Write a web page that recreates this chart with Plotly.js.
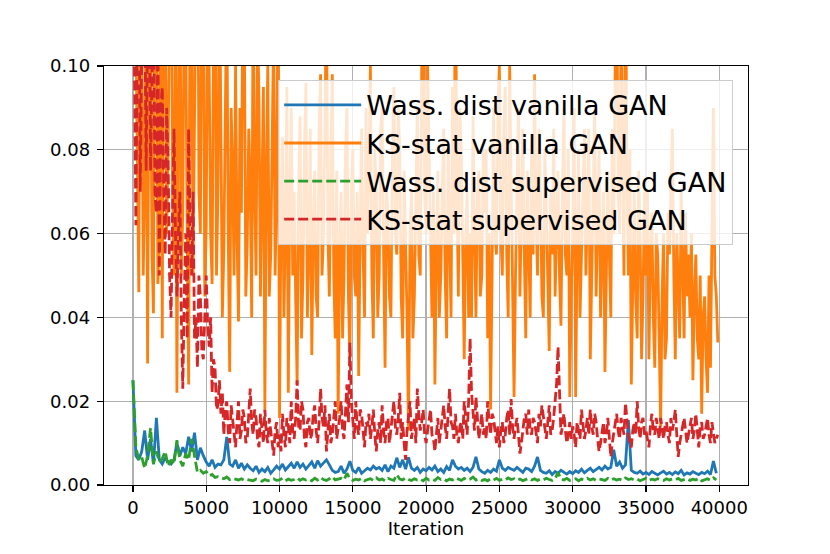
<!DOCTYPE html>
<html><head><meta charset="utf-8">
<script src="https://cdn.plot.ly/plotly-3.0.1.min.js"></script>
<style>html,body{margin:0;padding:0;background:#fff;}#chart{width:830px;height:554px;}</style>
</head><body><div id="chart"></div>
<script>
// iteration grids: KS-stat series every 100 iterations, Wasserstein every 200
const iterations100 = [];
for (let i = 0; i < 400; i++) iterations100.push(i * 100);
const iterations200 = [];
for (let i = 0; i < 200; i++) iterations200.push(i * 200);

const ksVanilla = [
0.13,0.16,0.11,0.07,0.046,0.14,0.12,0.05,0.07,0.12,
0.029,0.12,0.11,0.055,0.041,0.15,0.13,0.048,0.06,0.13,
0.035,0.14,0.12,0.06,0.08,0.13,0.15,0.07,0.05,0.11,
0.022,0.09,0.14,0.05,0.065,0.12,0.11,0.06,0.024,0.13,
0.12,0.05,0.09,0.14,0.16,0.07,0.06,0.12,0.13,0.045,
0.062,0.12,0.1,0.06,0.048,0.11,0.13,0.05,0.07,0.13,
0.09,0.04,0.056,0.1,0.12,0.06,0.027,0.09,0.075,0.05,
0.1,0.06,0.039,0.09,0.065,0.12,0.11,0.045,0.058,0.085,
0.072,0.04,0.12,0.07,0.05,0.11,0.092,0.045,0.068,0.095,
0.018,0.075,0.1,0.045,0.055,0.09,0.11,0.05,0.07,0.12,
0.016,0.065,0.083,0.04,0.06,0.095,0.022,0.07,0.09,0.05,
0.07,0.045,0.024,0.07,0.088,0.035,0.05,0.08,0.096,0.04,
0.055,0.085,0.031,0.06,0.075,0.045,0.04,0.085,0.098,0.05,
0.06,0.085,0.12,0.06,0.045,0.08,0.098,0.05,0.035,0.075,
0.017,0.055,0.07,0.035,0.05,0.08,0.09,0.045,0.03,0.07,
0.08,0.05,0.045,0.07,0.026,0.06,0.085,0.055,0.04,0.09,
0.06,0.075,0.1,0.05,0.035,0.08,0.07,0.04,0.05,0.085,
0.09,0.055,0.028,0.07,0.065,0.045,0.04,0.08,0.095,0.06,
0.055,0.09,0.08,0.045,0.035,0.075,0.06,0.04,0.013,0.06,
0.07,0.035,0.045,0.075,0.09,0.055,0.05,0.1,0.13,0.07,
0.06,0.1,0.08,0.05,0.04,0.07,0.024,0.055,0.075,0.04,
0.05,0.07,0.085,0.05,0.035,0.08,0.062,0.04,0.095,0.06,
0.13,0.07,0.045,0.09,0.08,0.05,0.03,0.06,0.07,0.04,
0.06,0.04,0.088,0.06,0.04,0.07,0.075,0.045,0.05,0.08,
0.065,0.08,0.035,0.06,0.018,0.05,0.09,0.06,0.055,0.09,
0.1,0.06,0.05,0.085,0.095,0.055,0.04,0.1,0.075,0.045,
0.021,0.05,0.07,0.09,0.045,0.065,0.085,0.055,0.035,0.075,
0.06,0.04,0.082,0.055,0.098,0.065,0.05,0.085,0.07,0.045,
0.04,0.08,0.066,0.045,0.032,0.07,0.055,0.085,0.045,0.06,
0.075,0.05,0.038,0.07,0.09,0.055,0.05,0.08,0.021,0.045,
0.06,0.09,0.021,0.055,0.08,0.04,0.052,0.07,0.085,0.05,
0.065,0.085,0.03,0.05,0.07,0.09,0.045,0.06,0.08,0.04,
0.055,0.07,0.027,0.05,0.075,0.055,0.04,0.085,0.06,0.1,
0.13,0.07,0.06,0.11,0.085,0.05,0.13,0.075,0.05,0.08,
0.024,0.05,0.07,0.045,0.035,0.075,0.06,0.03,0.045,0.07,
0.05,0.07,0.03,0.055,0.065,0.04,0.028,0.06,0.055,0.035,
0.014,0.045,0.06,0.03,0.035,0.065,0.055,0.07,0.085,0.05,
0.03,0.06,0.05,0.035,0.07,0.05,0.035,0.065,0.045,0.055,
0.04,0.06,0.025,0.045,0.055,0.035,0.03,0.05,0.017,0.04,
0.045,0.03,0.022,0.05,0.028,0.06,0.09,0.05,0.045,0.034
];

const ksSupervised = [
0.14,0.09,0.062,0.11,0.13,0.07,0.09,0.14,0.12,0.075,
0.11,0.13,0.075,0.1,0.12,0.07,0.065,0.11,0.05,0.09,
0.095,0.07,0.055,0.09,0.077,0.05,0.04,0.065,0.085,0.06,
0.045,0.06,0.07,0.04,0.023,0.045,0.06,0.035,0.085,0.06,
0.05,0.07,0.035,0.04,0.028,0.05,0.045,0.032,0.03,0.04,
0.05,0.038,0.033,0.04,0.022,0.03,0.028,0.018,0.019,0.025,
0.017,0.022,0.012,0.018,0.02,0.013,0.01,0.019,0.015,0.011,
0.009,0.015,0.02,0.011,0.013,0.018,0.016,0.01,0.011,0.017,
0.023,0.015,0.012,0.018,0.016,0.011,0.009,0.017,0.014,0.01,
0.018,0.012,0.01,0.016,0.013,0.01,0.007,0.013,0.015,0.009,
0.012,0.008,0.017,0.012,0.009,0.016,0.014,0.01,0.02,0.013,
0.011,0.016,0.025,0.014,0.013,0.02,0.018,0.011,0.009,0.015,
0.016,0.011,0.012,0.017,0.019,0.013,0.01,0.015,0.023,0.016,
0.014,0.019,0.008,0.013,0.017,0.01,0.012,0.016,0.02,0.011,
0.013,0.016,0.02,0.013,0.011,0.018,0.024,0.015,0.034,0.02,
0.016,0.011,0.02,0.014,0.012,0.018,0.017,0.012,0.009,0.015,
0.014,0.017,0.011,0.014,0.018,0.012,0.008,0.013,0.015,0.01,
0.019,0.013,0.01,0.015,0.016,0.01,0.013,0.017,0.02,0.014,
0.012,0.016,0.022,0.011,0.015,0.01,0.006,0.013,0.017,0.02,
0.011,0.014,0.016,0.01,0.023,0.017,0.013,0.015,0.018,0.012,
0.01,0.013,0.015,0.018,0.012,0.011,0.008,0.012,0.016,0.01,
0.013,0.016,0.019,0.014,0.011,0.017,0.023,0.015,0.014,0.011,
0.017,0.012,0.01,0.014,0.015,0.011,0.02,0.016,0.012,0.02,
0.035,0.022,0.016,0.013,0.021,0.015,0.011,0.014,0.017,0.012,
0.014,0.011,0.02,0.015,0.012,0.017,0.016,0.013,0.01,0.014,
0.009,0.013,0.015,0.01,0.012,0.016,0.018,0.012,0.0205,0.014,
0.011,0.014,0.016,0.012,0.0075,0.01,0.013,0.016,0.017,0.012,
0.018,0.013,0.012,0.016,0.015,0.012,0.01,0.017,0.014,0.019,
0.016,0.013,0.011,0.015,0.019,0.012,0.013,0.016,0.02,0.024,
0.033,0.02,0.012,0.014,0.017,0.013,0.01,0.012,0.015,0.011,
0.014,0.012,0.009,0.015,0.013,0.011,0.018,0.014,0.011,0.013,
0.016,0.012,0.018,0.014,0.012,0.017,0.015,0.011,0.008,0.01,
0.013,0.015,0.01,0.012,0.016,0.011,0.0067,0.01,0.012,0.014,
0.017,0.013,0.011,0.016,0.014,0.012,0.0196,0.015,0.012,0.01,
0.009,0.013,0.015,0.012,0.02,0.014,0.011,0.015,0.016,0.012,
0.013,0.011,0.009,0.014,0.017,0.013,0.012,0.016,0.014,0.011,
0.016,0.013,0.011,0.014,0.015,0.012,0.01,0.016,0.013,0.015,
0.018,0.012,0.0067,0.01,0.012,0.015,0.016,0.013,0.01,0.012,
0.014,0.016,0.011,0.013,0.017,0.012,0.009,0.014,0.015,0.011,
0.012,0.014,0.016,0.012,0.01,0.015,0.013,0.01,0.011,0.012
];

const wassVanilla = [
0.025,0.007,0.006,0.008,0.013, 0.006,0.011,0.005,0.016,0.006, 0.005,0.0065,0.0055,0.005,0.006, 0.01,0.007,0.009,0.0075,0.0115,
0.008,0.0125,0.006,0.0089,0.007, 0.0055,0.0045,0.006,0.0042,0.005, 0.0048,0.006,0.0115,0.005,0.0045, 0.006,0.004,0.0052,0.0038,0.0048,
0.004,0.0034,0.0045,0.003,0.0038, 0.0032,0.0042,0.0028,0.0036,0.0045, 0.0038,0.005,0.0036,0.0045,0.0052, 0.004,0.0055,0.0042,0.005,0.0038,
0.0048,0.0055,0.004,0.0058,0.0045, 0.0052,0.006,0.0048,0.0035,0.003, 0.0032,0.0045,0.0028,0.0038,0.0057, 0.0035,0.003,0.0042,0.0028,0.0034,
0.004,0.0036,0.0045,0.0038,0.0042, 0.0035,0.0048,0.0032,0.0045,0.004, 0.0065,0.0042,0.006,0.0038,0.0066, 0.004,0.0035,0.0042,0.003,0.0038,
0.0034,0.0042,0.0036,0.0045,0.0032, 0.0038,0.003,0.0044,0.0035,0.006, 0.0045,0.0038,0.0042,0.0035,0.004, 0.0032,0.0042,0.0067,0.0038,0.0032,
0.0028,0.0035,0.003,0.0038,0.0033, 0.006,0.004,0.0035,0.0042,0.0038, 0.0035,0.0042,0.0036,0.003,0.004, 0.0038,0.0032,0.0045,0.0067,0.0035,
0.003,0.0028,0.0034,0.0025,0.0032, 0.0028,0.0035,0.003,0.0026,0.0032, 0.0027,0.0034,0.003,0.0038,0.0029, 0.0035,0.004,0.0032,0.0038,0.0042,
0.0036,0.0045,0.0038,0.0042,0.0084, 0.0045,0.0055,0.004,0.0048,0.0155, 0.0035,0.003,0.0028,0.0033,0.0026, 0.003,0.0025,0.0032,0.0028,0.0024,
0.0029,0.0033,0.0026,0.003,0.0025, 0.0031,0.0027,0.0035,0.0024,0.0029, 0.0026,0.0032,0.0028,0.0025,0.003, 0.0027,0.0033,0.0025,0.0057,0.0028
];

const wassSupervised = [
0.025,0.009,0.006,0.0066,0.004, 0.007,0.0136,0.005,0.008,0.0055, 0.0063,0.008,0.0045,0.006,0.005, 0.0107,0.006,0.0045,0.0075,0.006,
0.011,0.0065,0.003,0.0035,0.0028, 0.0032,0.0022,0.0025,0.0018,0.002, 0.0017,0.0015,0.0019,0.0013,0.0016, 0.0014,0.0012,0.0015,0.0011,0.0013,
0.0012,0.001,0.0014,0.0011,0.0009, 0.0013,0.001,0.0012,0.0015,0.0011, 0.0012,0.0016,0.001,0.0014,0.0011, 0.0013,0.0017,0.0011,0.0015,0.0012,
0.0014,0.001,0.0016,0.0012,0.0018, 0.0013,0.0011,0.0015,0.002,0.0012, 0.0014,0.0016,0.0012,0.0028,0.0015, 0.0011,0.0014,0.0012,0.0016,0.001,
0.0013,0.0015,0.0011,0.0017,0.0012, 0.0014,0.001,0.0016,0.0013,0.0011, 0.0025,0.0014,0.0012,0.0017,0.0013, 0.0011,0.0015,0.0012,0.0014,0.001,
0.0016,0.0012,0.0014,0.0011,0.0018, 0.0013,0.0015,0.001,0.0014,0.0012, 0.0017,0.0013,0.0011,0.0016,0.0012, 0.0014,0.0019,0.0012,0.0015,0.0011,
0.0013,0.001,0.0015,0.0012,0.0016, 0.0011,0.0014,0.0012,0.0017,0.0013, 0.0015,0.0011,0.0014,0.001,0.0013, 0.0016,0.0012,0.0015,0.0011,0.0014,
0.0012,0.0016,0.0013,0.0011,0.0015, 0.003,0.0014,0.0012,0.0016,0.0011, 0.0013,0.0015,0.001,0.0014,0.0012, 0.0016,0.0012,0.0015,0.0011,0.0014,
0.0013,0.0011,0.0016,0.0012,0.0015, 0.0012,0.0014,0.0011,0.0017,0.0013, 0.0015,0.0012,0.0014,0.001,0.0013, 0.0016,0.0011,0.0014,0.0012,0.0015,
0.0013,0.0011,0.0015,0.0012,0.0014, 0.0012,0.0016,0.0011,0.0013,0.0015, 0.0011,0.0014,0.0012,0.0016,0.001, 0.0013,0.0015,0.0011,0.0017,0.0012
];

const seriesNames = ["Wass. dist vanilla GAN", "KS-stat vanilla GAN", "Wass. dist supervised GAN", "KS-stat supervised GAN"];
const xTicks = [0, 5000, 10000, 15000, 20000, 25000, 30000, 35000, 40000];
const yTicks = [0, 0.02, 0.04, 0.06, 0.08, 0.10];
const yTickText = ["0.00", "0.02", "0.04", "0.06", "0.08", "0.10"];

const font = "DejaVu Sans, sans-serif";
function tr(x, y, name, color, dash, g) {
  return {x: x, y: y, name: name, type: "scatter", mode: "lines",
    legendgroup: g, line: {color: color, width: 2.8, dash: dash}};
}
const data = [
  tr(iterations200, wassVanilla, seriesNames[0], "#1f77b4", "solid", "a"),
  tr(iterations100, ksVanilla, seriesNames[1], "#ff7f0e", "solid", "b"),
  tr(iterations200, wassSupervised, seriesNames[2], "#2ca02c", "10px,4px", "c"),
  tr(iterations100, ksSupervised, seriesNames[3], "#d62728", "10px,4px", "d")
];
const axisCommon = {showgrid: true, gridcolor: "#b0b0b0", gridwidth: 1.3, zeroline: false,
  showline: true, linecolor: "#000", linewidth: 1.2, mirror: true,
  ticks: "outside", ticklen: 6, tickwidth: 1.2, tickcolor: "#000",
  tickfont: {family: font, size: 18, color: "#000"}};
const layout = {
  width: 830, height: 554,
  margin: {l: 104, r: 82, t: 66, b: 69},
  paper_bgcolor: "#fff", plot_bgcolor: "#fff",
  showlegend: true,
  xaxis: Object.assign({}, axisCommon, {range: [-1975, 41960], tickvals: xTicks,
    ticktext: xTicks.map(String),
    title: {text: "Iteration", font: {family: font, size: 18, color: "#000"}, standoff: 4}}),
  yaxis: Object.assign({}, axisCommon, {range: [0, 0.1], tickvals: yTicks, ticktext: yTickText,
    ticklabelstandoff: 3}),
  legend: {x: 0.977, y: 0.967, xanchor: "right", yanchor: "top",
    bgcolor: "rgba(255,255,255,0.8)", bordercolor: "#cccccc", borderwidth: 1,
    font: {family: font, size: 27, color: "#000"}, tracegroupgap: 12, traceorder: "normal",
    itemwidth: 77}
};
Plotly.newPlot("chart", data, layout, {displayModeBar: false, staticPlot: true});
</script></body></html>
